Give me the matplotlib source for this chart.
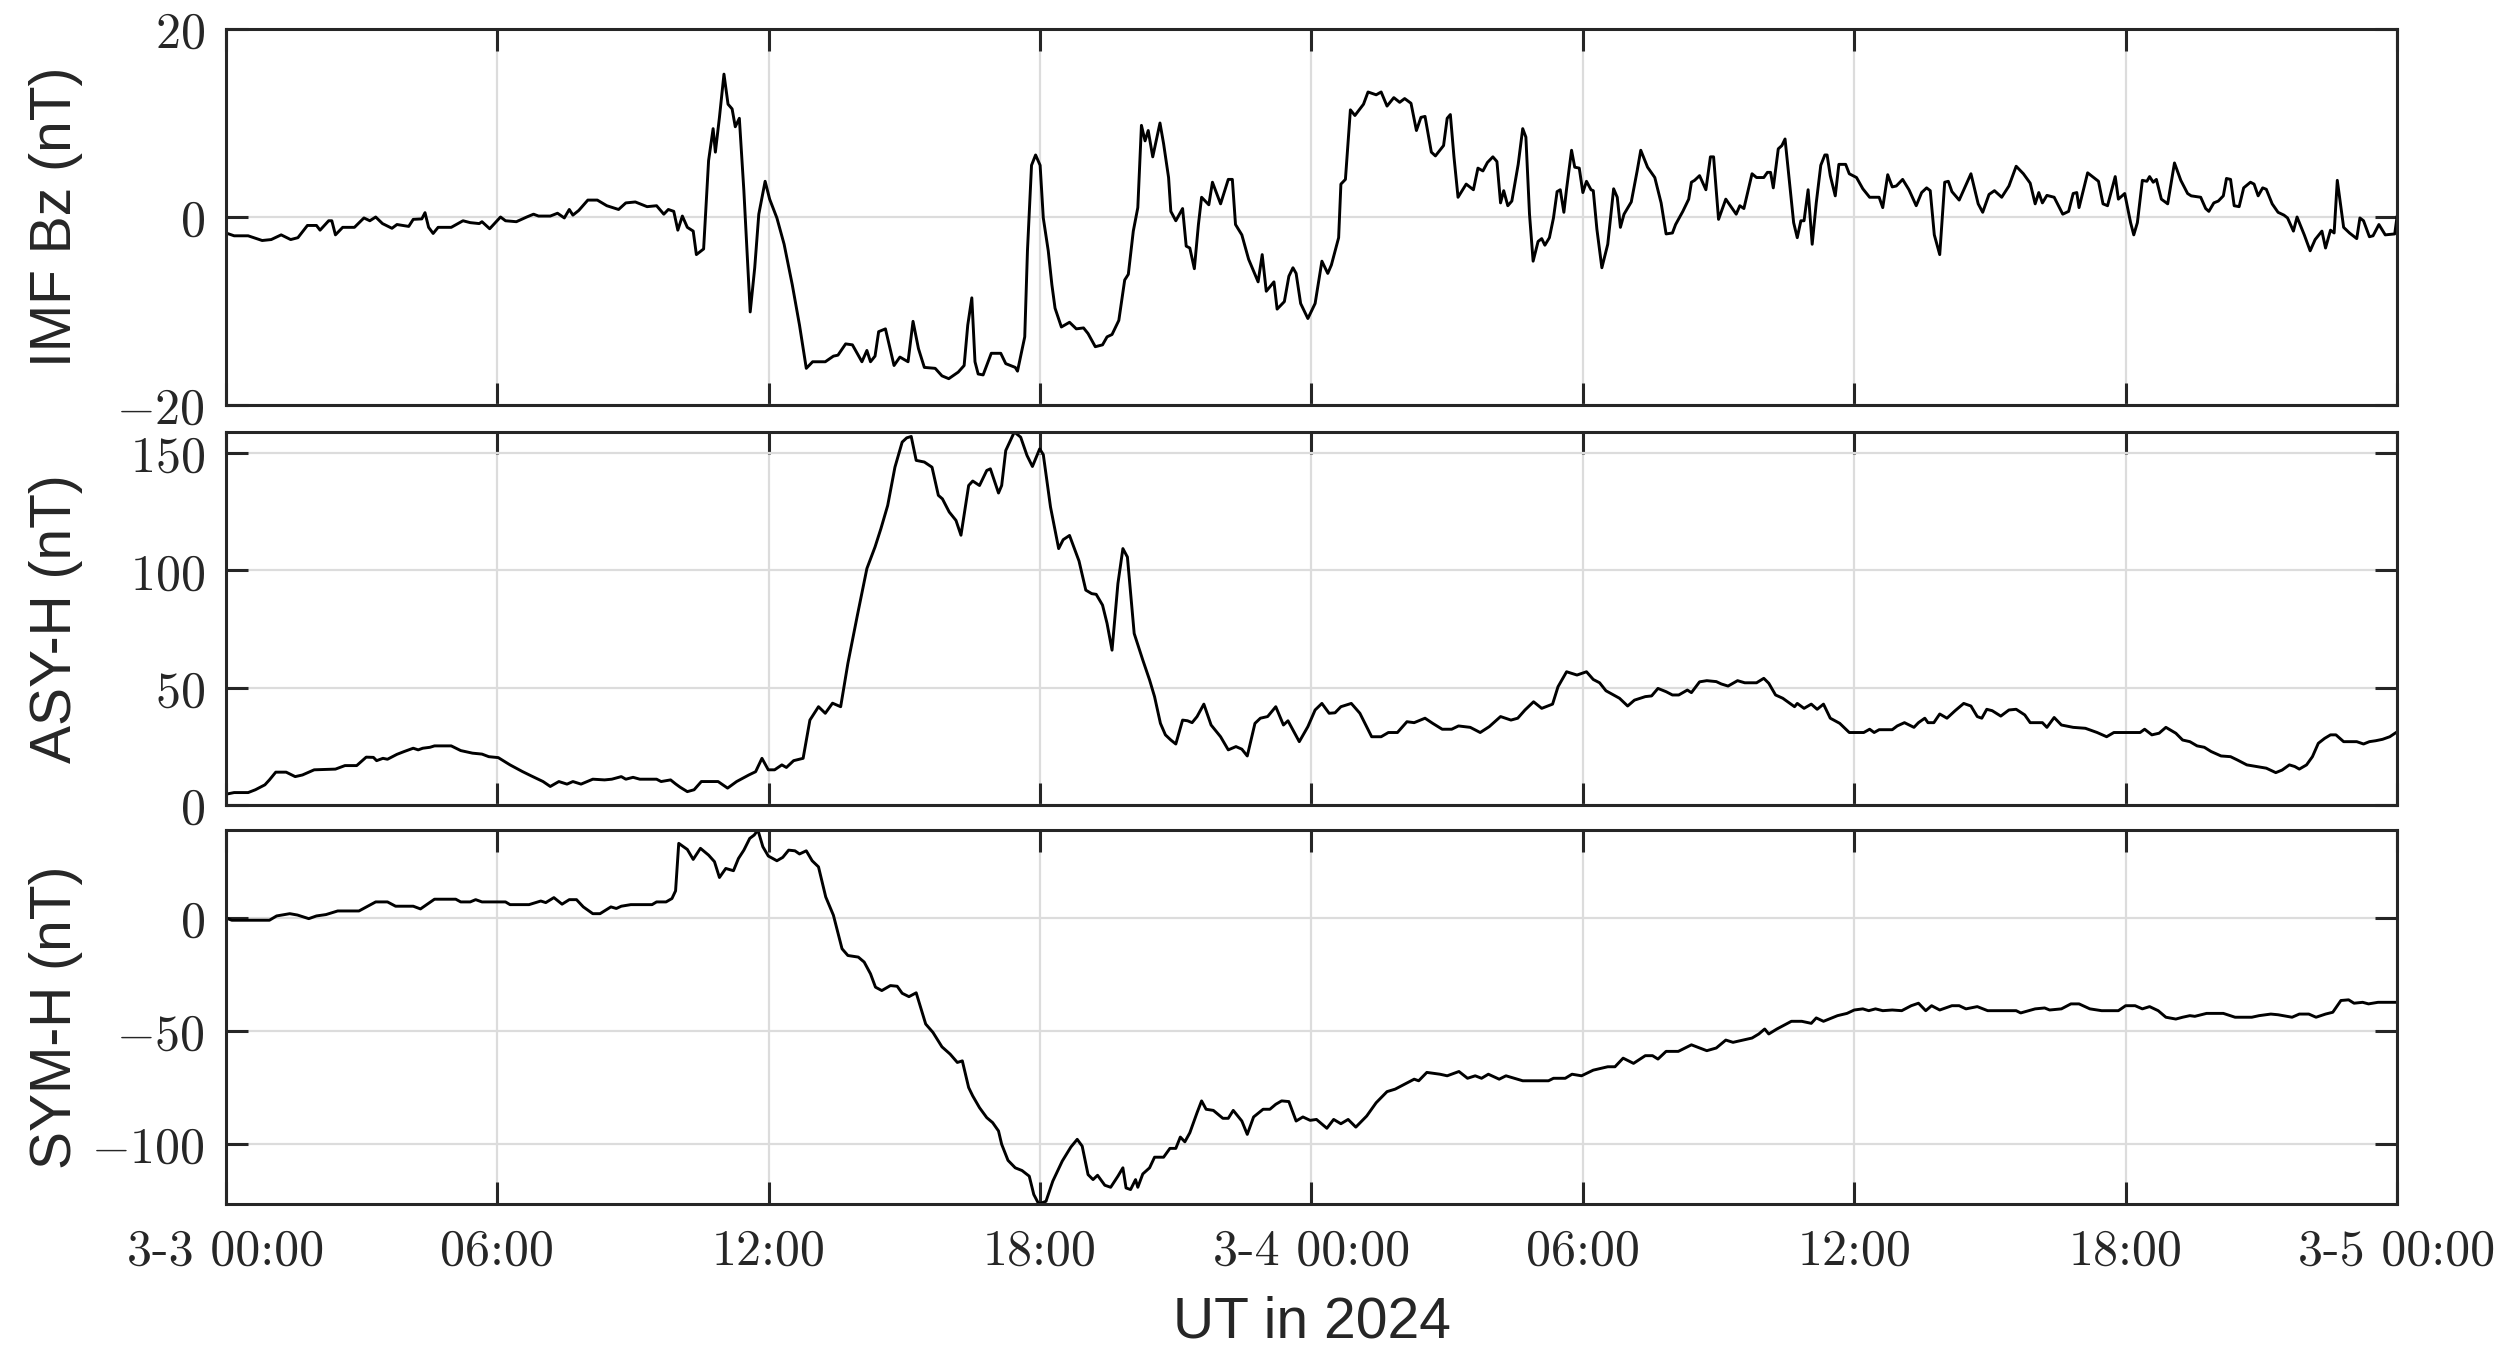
# Indices geomagneticos 3-5 de marzo de 2024: IMF Bz, ASY-H y SYM-H
import matplotlib
matplotlib.use('Agg')
import matplotlib.pyplot as plt
import numpy as np

plt.rcParams['mathtext.fontset'] = 'cm'

# ====================================================================================
# DATOS (horas desde 2024-03-03 00:00 UT, valor en nT)
bz_points = [
    (0, -1.7), (0.18, -2.0), (0.49, -2.0), (0.8, -2.5), (1.0, -2.4), (1.22, -1.9), (1.43, -2.4),
    (1.59, -2.2), (1.8, -0.9), (2.0, -0.9), (2.08, -1.4), (2.27, -0.4), (2.34, -0.4), (2.42, -1.9),
    (2.58, -1.1), (2.84, -1.1), (3.05, -0.1), (3.18, -0.4), (3.31, 0.0), (3.46, -0.7), (3.67, -1.2),
    (3.78, -0.8), (4.04, -1.0), (4.14, -0.25), (4.33, -0.2), (4.4, 0.46), (4.48, -1.1), (4.58, -1.75),
    (4.69, -1.1), (4.98, -1.1), (5.24, -0.4), (5.4, -0.6), (5.6, -0.7), (5.66, -0.5), (5.83, -1.25),
    (6.07, 0.0), (6.18, -0.4), (6.42, -0.5), (6.65, 0.0), (6.8, 0.3), (6.91, 0.1), (7.17, 0.1),
    (7.33, 0.4), (7.48, -0.1), (7.59, 0.8), (7.67, 0.2), (7.8, 0.7), (8.0, 1.8), (8.21, 1.8),
    (8.42, 1.2), (8.68, 0.8), (8.84, 1.5), (9.05, 1.6), (9.31, 1.1), (9.52, 1.2), (9.68, 0.3),
    (9.78, 0.8), (9.9, 0.6), (9.99, -1.4), (10.09, 0.1), (10.2, -1.1), (10.33, -1.5), (10.4, -4.0),
    (10.56, -3.4), (10.67, 6.0), (10.77, 9.4), (10.82, 6.9), (10.91, 10.6), (11.01, 15.2), (11.1, 12.0),
    (11.19, 11.5), (11.26, 9.6), (11.35, 10.5), (11.45, 2.8), (11.59, -10.1), (11.69, -5.4), (11.78, 0.3),
    (11.92, 3.8), (12.02, 1.9), (12.18, -0.1), (12.34, -2.9), (12.52, -7.2), (12.68, -11.5), (12.83, -16.1),
    (12.97, -15.4), (13.25, -15.4), (13.43, -14.8), (13.53, -14.7), (13.7, -13.5), (13.85, -13.6),
    (14.06, -15.4), (14.17, -14.2), (14.25, -15.4), (14.35, -14.8), (14.43, -12.2), (14.58, -11.9),
    (14.77, -15.8), (14.9, -14.9), (15.08, -15.4), (15.19, -11.1), (15.31, -14.0), (15.44, -16.0),
    (15.68, -16.1), (15.83, -16.9), (15.98, -17.2), (16.19, -16.5), (16.32, -15.8), (16.4, -11.5),
    (16.49, -8.6), (16.56, -15.4), (16.63, -16.7), (16.74, -16.8), (16.92, -14.5), (17.13, -14.5),
    (17.24, -15.6), (17.45, -16.0), (17.5, -16.4), (17.66, -12.75), (17.72, -3.6), (17.81, 5.5),
    (17.9, 6.6), (18.0, 5.5), (18.07, -0.1), (18.18, -3.6), (18.26, -7.2), (18.33, -9.7), (18.47, -11.7),
    (18.65, -11.2), (18.8, -11.9), (18.96, -11.8), (19.06, -12.4), (19.22, -13.8), (19.38, -13.6),
    (19.48, -12.75), (19.59, -12.5), (19.74, -11.0), (19.87, -6.7), (19.95, -6.1), (20.06, -1.5),
    (20.16, 1.0), (20.24, 9.75), (20.32, 8.1), (20.39, 9.2), (20.49, 6.4), (20.65, 10.0), (20.73, 7.8),
    (20.84, 4.2), (20.89, 0.6), (21.0, -0.4), (21.15, 0.9), (21.23, -3.1), (21.31, -3.3), (21.41, -5.5),
    (21.5, -0.8), (21.57, 2.1), (21.73, 1.3), (21.81, 3.7), (21.99, 1.4), (22.16, 4.0), (22.25, 4.0),
    (22.32, -0.8), (22.46, -1.9), (22.61, -4.5), (22.82, -6.9), (22.91, -4.0), (23.0, -7.9), (23.17, -6.9),
    (23.24, -9.8), (23.4, -9.0), (23.5, -6.3), (23.59, -5.4), (23.66, -6.0), (23.76, -9.2), (23.92, -10.8),
    (24.08, -9.2), (24.23, -4.7), (24.36, -6.0), (24.44, -5.1), (24.6, -2.2), (24.65, 3.5), (24.75, 4.0),
    (24.86, 11.4), (24.96, 10.8), (25.15, 12.0), (25.25, 13.3), (25.43, 13.0), (25.54, 13.3), (25.67, 11.8),
    (25.82, 12.7), (25.95, 12.2), (26.06, 12.6), (26.2, 12.1), (26.32, 9.2), (26.42, 10.6), (26.51, 10.7),
    (26.65, 6.9), (26.74, 6.5), (26.92, 7.6), (27.0, 10.5), (27.07, 10.9), (27.15, 6.4), (27.24, 2.1),
    (27.42, 3.5), (27.58, 2.9), (27.68, 5.2), (27.79, 4.9), (27.89, 5.8), (28.01, 6.4), (28.1, 5.9),
    (28.18, 1.5), (28.25, 2.8), (28.34, 1.2), (28.43, 1.7), (28.57, 5.6), (28.67, 9.4), (28.74, 8.5),
    (28.82, 0.3), (28.9, -4.7), (29.01, -2.6), (29.09, -2.3), (29.16, -3.0), (29.26, -2.2), (29.35, -0.1),
    (29.43, 2.7), (29.5, 2.9), (29.58, 0.5), (29.64, 3.0), (29.75, 7.1), (29.82, 5.3), (29.92, 5.2),
    (30.0, 2.6), (30.08, 3.8), (30.18, 2.9), (30.23, 2.8), (30.31, -1.3), (30.42, -5.4), (30.55, -2.9),
    (30.6, -0.6), (30.68, 3.0), (30.76, 2.1), (30.83, -1.1), (30.91, 0.3), (31.07, 1.6), (31.2, 4.9),
    (31.28, 7.1), (31.43, 5.3), (31.59, 4.2), (31.73, 1.5), (31.84, -1.8), (31.98, -1.7), (32.05, -0.8),
    (32.21, 0.6), (32.34, 1.9), (32.4, 3.7), (32.47, 3.9), (32.58, 4.4), (32.72, 2.9), (32.82, 6.4),
    (32.89, 6.4), (33.0, -0.25), (33.16, 1.9), (33.26, 1.2), (33.39, 0.3), (33.47, 1.2), (33.56, 0.9),
    (33.74, 4.6), (33.84, 4.2), (34.0, 4.2), (34.08, 4.75), (34.15, 4.75), (34.21, 3.1), (34.32, 7.25),
    (34.4, 7.6), (34.47, 8.3), (34.58, 3.1), (34.66, -0.6), (34.74, -2.2), (34.82, -0.4), (34.89, -0.4),
    (34.98, 2.9), (35.07, -2.9), (35.16, 1.5), (35.26, 5.5), (35.35, 6.6), (35.4, 6.6), (35.47, 4.4),
    (35.58, 2.25), (35.66, 5.6), (35.81, 5.6), (35.89, 4.6), (36.05, 4.2), (36.19, 3.0), (36.34, 2.1),
    (36.55, 2.1), (36.63, 1.0), (36.74, 4.5), (36.84, 3.2), (36.93, 3.3), (37.07, 4.0), (37.21, 2.9),
    (37.37, 1.2), (37.49, 2.6), (37.6, 3.1), (37.68, 2.8), (37.77, -1.9), (37.89, -4.0), (38.0, 3.7),
    (38.08, 3.8), (38.16, 2.7), (38.32, 1.8), (38.58, 4.6), (38.74, 1.4), (38.84, 0.5), (38.98, 2.4),
    (39.1, 2.8), (39.26, 2.1), (39.42, 3.3), (39.58, 5.4), (39.74, 4.6), (39.89, 3.6), (40.0, 1.4),
    (40.08, 2.6), (40.16, 1.5), (40.26, 2.3), (40.42, 2.1), (40.61, 0.3), (40.74, 0.6), (40.84, 2.5),
    (40.92, 2.6), (40.97, 1.0), (41.16, 4.7), (41.4, 3.8), (41.5, 1.4), (41.6, 1.2), (41.77, 4.3),
    (41.84, 1.9), (41.98, 2.5), (42.11, -0.6), (42.18, -1.9), (42.26, -0.6), (42.37, 3.9), (42.47, 3.8),
    (42.53, 4.3), (42.61, 3.7), (42.68, 4.0), (42.79, 1.9), (42.93, 1.4), (43.08, 5.75), (43.22, 3.9),
    (43.37, 2.5), (43.45, 2.25), (43.66, 2.1), (43.77, 0.9), (43.84, 0.6), (43.95, 1.5), (44.05, 1.7),
    (44.16, 2.25), (44.23, 4.1), (44.32, 4.0), (44.4, 1.2), (44.51, 1.1), (44.61, 3.1), (44.76, 3.7),
    (44.84, 3.5), (44.93, 2.25), (45.03, 3.1), (45.11, 2.95), (45.24, 1.4), (45.37, 0.5), (45.5, 0.2),
    (45.58, -0.1), (45.71, -1.5), (45.79, 0.0), (45.95, -1.9), (46.08, -3.6), (46.19, -2.4), (46.34, -1.5),
    (46.42, -3.3), (46.53, -1.4), (46.61, -1.7), (46.68, 3.9), (46.82, -1.1), (46.95, -1.7), (47.11, -2.3),
    (47.18, -0.1), (47.26, -0.4), (47.39, -2.1), (47.47, -2.0), (47.6, -0.8), (47.74, -1.9), (47.95, -1.8),
    (48.0, 0.0),
]

asy_points = [
    (0, 4.6), (0.18, 5.3), (0.49, 5.3), (0.65, 6.5), (0.86, 8.6), (0.96, 10.7), (1.1, 14.0), (1.33, 14.0),
    (1.53, 12.1), (1.69, 12.8), (1.95, 15.0), (2.42, 15.3), (2.63, 16.8), (2.89, 16.8), (3.1, 20.4),
    (3.26, 20.3), (3.33, 18.9), (3.47, 19.9), (3.57, 19.5), (3.78, 21.6), (3.94, 22.8), (4.14, 24.2),
    (4.25, 23.5), (4.35, 24.2), (4.51, 24.6), (4.61, 25.2), (4.98, 25.2), (5.19, 23.2), (5.45, 22.1),
    (5.66, 21.7), (5.81, 20.6), (6.02, 20.2), (6.28, 17.1), (6.55, 14.3), (6.75, 12.4), (7.01, 10.0),
    (7.17, 7.9), (7.36, 10.0), (7.54, 8.9), (7.67, 10.0), (7.85, 8.9), (8.11, 11.0), (8.37, 10.7),
    (8.53, 11.0), (8.74, 12.1), (8.84, 11.0), (9.0, 11.8), (9.15, 11.0), (9.52, 11.0), (9.62, 10.0),
    (9.83, 10.7), (9.94, 9.0), (10.04, 7.6), (10.2, 5.7), (10.35, 6.5), (10.51, 10.0), (10.88, 10.0),
    (11.09, 7.2), (11.29, 10.0), (11.56, 12.8), (11.71, 14.2), (11.85, 19.9), (11.99, 15.0), (12.13, 15.0),
    (12.29, 17.1), (12.39, 16.0), (12.55, 18.9), (12.76, 19.9), (12.91, 36.2), (13.1, 41.9), (13.25, 39.1),
    (13.41, 43.4), (13.59, 41.9), (13.75, 60.4), (13.96, 80.9), (14.17, 100.8), (14.35, 110.0),
    (14.48, 117.8), (14.63, 127.7), (14.79, 144.0), (14.95, 154.7), (15.05, 156.5), (15.15, 157.1),
    (15.26, 146.9), (15.44, 146.2), (15.61, 144.0), (15.75, 132.0), (15.84, 130.5), (15.99, 124.9),
    (16.14, 121.3), (16.25, 115.0), (16.42, 136.2), (16.51, 138.1), (16.66, 136.2), (16.82, 142.6),
    (16.9, 143.3), (17.08, 133.0), (17.15, 136.2), (17.24, 151.1), (17.43, 159.0), (17.57, 156.8),
    (17.71, 149.0), (17.83, 144.3), (17.99, 151.8), (18.07, 149.4), (18.23, 127.0), (18.41, 109.3),
    (18.51, 113.1), (18.65, 114.9), (18.86, 104.0), (19.01, 91.6), (19.14, 90.1), (19.24, 89.8),
    (19.38, 85.2), (19.48, 77.4), (19.59, 66.0), (19.72, 94.4), (19.83, 109.3), (19.93, 105.7),
    (20.08, 73.1), (20.27, 61.8), (20.42, 53.3), (20.53, 46.2), (20.66, 34.8), (20.77, 29.9), (20.89, 27.7),
    (21.0, 26.0), (21.15, 36.2), (21.26, 35.9), (21.36, 35.1), (21.47, 37.7), (21.62, 43.0), (21.78, 34.1),
    (21.99, 29.1), (22.16, 23.5), (22.33, 24.9), (22.46, 23.8), (22.58, 20.9), (22.75, 34.8), (22.87, 37.0),
    (23.03, 37.7), (23.21, 41.9), (23.38, 34.1), (23.48, 35.9), (23.73, 27.0), (23.92, 33.4), (24.08, 40.5),
    (24.23, 43.3), (24.39, 39.1), (24.52, 39.3), (24.65, 41.9), (24.88, 43.3), (25.07, 39.1), (25.33, 29.1),
    (25.54, 29.1), (25.7, 30.9), (25.9, 30.9), (26.11, 35.5), (26.27, 35.1), (26.51, 37.0), (26.68, 34.8),
    (26.89, 32.3), (27.1, 32.3), (27.25, 33.7), (27.51, 33.1), (27.73, 30.9), (27.93, 33.4), (28.18, 37.7),
    (28.41, 36.2), (28.56, 37.0), (28.72, 40.5), (28.91, 44.0), (29.09, 41.2), (29.33, 43.0), (29.45, 50.4),
    (29.64, 56.8), (29.87, 55.4), (30.08, 56.8), (30.23, 53.5), (30.37, 52.1), (30.51, 48.7), (30.81, 45.5),
    (30.99, 42.2), (31.14, 44.7), (31.38, 46.2), (31.52, 46.5), (31.66, 49.7), (31.84, 48.3), (31.98, 46.9),
    (32.12, 46.9), (32.31, 49.0), (32.4, 47.9), (32.58, 52.5), (32.74, 53.0), (32.95, 52.6), (33.06, 51.6),
    (33.21, 50.7), (33.42, 53.0), (33.58, 52.1), (33.84, 52.1), (34.0, 54.0), (34.11, 51.9), (34.26, 46.9),
    (34.42, 45.5), (34.58, 43.3), (34.68, 41.9), (34.74, 43.3), (34.89, 41.2), (35.05, 43.0), (35.18, 40.8),
    (35.32, 43.0), (35.47, 37.0), (35.68, 34.8), (35.89, 30.9), (36.21, 30.9), (36.34, 32.3), (36.44, 30.9),
    (36.55, 32.1), (36.84, 32.1), (36.95, 33.7), (37.11, 35.1), (37.32, 33.1), (37.42, 35.1), (37.56, 37.0),
    (37.63, 35.1), (37.76, 35.1), (37.89, 38.8), (38.05, 37.0), (38.23, 40.2), (38.42, 43.3), (38.58, 42.2),
    (38.72, 37.7), (38.82, 37.0), (38.93, 40.8), (39.05, 40.2), (39.24, 37.9), (39.42, 40.5), (39.58, 40.8),
    (39.77, 38.4), (39.89, 35.1), (40.16, 35.1), (40.26, 33.1), (40.42, 37.3), (40.58, 34.1), (40.84, 33.1),
    (41.11, 32.7), (41.37, 30.9), (41.58, 29.1), (41.74, 30.9), (42.32, 30.9), (42.42, 32.3), (42.58, 29.9),
    (42.74, 30.6), (42.89, 33.1), (43.11, 30.6), (43.26, 27.7), (43.42, 27.0), (43.58, 25.2), (43.74, 24.6),
    (43.89, 22.8), (44.11, 20.9), (44.32, 20.6), (44.47, 19.2), (44.68, 17.1), (44.89, 16.4), (45.11, 15.7),
    (45.32, 13.8), (45.46, 14.9), (45.62, 17.1), (45.74, 16.4), (45.84, 15.3), (46.0, 17.1), (46.13, 20.6),
    (46.26, 26.3), (46.4, 28.4), (46.53, 29.9), (46.65, 29.9), (46.82, 27.0), (47.11, 27.0), (47.26, 26.0),
    (47.39, 27.0), (47.53, 27.4), (47.68, 28.0), (47.84, 29.1), (47.98, 30.9),
]

sym_points = [
    (0, 0.0), (0.13, -1.0), (0.49, -1.0), (0.96, -1.0), (1.12, 0.9), (1.41, 1.9), (1.58, 1.3), (1.83, -0.3),
    (2.0, 0.9), (2.21, 1.5), (2.47, 3.1), (2.94, 3.1), (3.31, 7.1), (3.57, 7.1), (3.75, 5.2), (4.14, 5.2),
    (4.3, 4.0), (4.61, 8.3), (5.08, 8.3), (5.19, 7.1), (5.4, 7.1), (5.52, 8.1), (5.66, 7.1), (6.18, 7.1),
    (6.28, 5.9), (6.7, 5.9), (6.96, 7.5), (7.07, 6.8), (7.25, 9.0), (7.43, 6.1), (7.59, 8.1), (7.75, 8.1),
    (7.9, 4.9), (8.11, 1.9), (8.27, 1.9), (8.51, 4.9), (8.63, 4.2), (8.74, 5.2), (8.95, 5.9), (9.42, 5.9),
    (9.52, 7.1), (9.73, 7.1), (9.86, 8.6), (9.94, 12.0), (10.01, 33.0), (10.2, 30.3), (10.33, 25.9),
    (10.49, 30.8), (10.67, 27.8), (10.8, 24.9), (10.91, 17.9), (11.05, 21.9), (11.22, 20.9), (11.33, 26.3),
    (11.45, 30.0), (11.58, 35.2), (11.68, 36.7), (11.76, 38.9), (11.87, 31.5), (11.99, 27.4), (12.18, 25.3),
    (12.31, 26.8), (12.44, 30.0), (12.58, 29.7), (12.68, 28.3), (12.83, 29.7), (12.96, 25.3), (13.1, 22.6),
    (13.26, 9.3), (13.43, 1.2), (13.62, -13.6), (13.75, -16.6), (13.98, -17.3), (14.11, -19.5),
    (14.25, -24.7), (14.36, -30.6), (14.5, -32.1), (14.69, -29.9), (14.84, -30.2), (14.95, -33.3),
    (15.1, -34.8), (15.26, -33.1), (15.47, -46.9), (15.63, -50.6), (15.83, -57.0), (16.01, -60.2),
    (16.17, -63.9), (16.28, -63.2), (16.42, -75.0), (16.51, -78.7), (16.66, -83.9), (16.82, -88.3),
    (16.95, -90.5), (17.08, -94.2), (17.15, -100.1), (17.29, -107.2), (17.45, -110.5), (17.6, -111.7),
    (17.76, -114.2), (17.86, -122.3), (17.97, -126.5), (18.13, -125.3), (18.28, -116.4), (18.49, -107.5),
    (18.68, -101.3), (18.82, -97.9), (18.93, -100.9), (19.06, -113.5), (19.17, -115.7), (19.27, -113.8),
    (19.43, -118.2), (19.56, -119.1), (19.72, -114.2), (19.83, -110.5), (19.9, -119.4), (20.0, -120.1),
    (20.11, -115.7), (20.16, -119.1), (20.27, -113.2), (20.42, -110.5), (20.53, -105.8), (20.73, -105.8),
    (20.87, -101.9), (21.0, -101.9), (21.1, -96.9), (21.2, -99.0), (21.31, -95.0), (21.47, -86.1),
    (21.57, -80.9), (21.67, -84.6), (21.83, -85.1), (22.04, -88.6), (22.16, -88.6), (22.27, -85.1),
    (22.46, -89.8), (22.58, -95.7), (22.72, -88.0), (22.93, -84.6), (23.08, -84.6), (23.21, -82.4),
    (23.34, -80.9), (23.5, -81.2), (23.66, -89.8), (23.81, -88.0), (23.97, -89.5), (24.11, -89.1),
    (24.34, -93.0), (24.49, -89.1), (24.65, -91.0), (24.81, -89.1), (24.98, -92.5), (25.22, -87.6),
    (25.43, -81.7), (25.67, -76.8), (25.85, -75.7), (26.06, -73.5), (26.27, -71.3), (26.37, -72.0),
    (26.55, -68.3), (26.84, -69.1), (27.0, -69.8), (27.26, -67.9), (27.45, -70.9), (27.62, -69.8),
    (27.76, -70.9), (27.91, -69.1), (28.15, -71.3), (28.3, -69.8), (28.67, -72.0), (29.24, -72.0),
    (29.35, -70.9), (29.61, -70.9), (29.76, -69.1), (29.97, -69.8), (30.23, -67.3), (30.55, -65.8),
    (30.71, -65.8), (30.89, -62.0), (31.12, -64.3), (31.38, -60.9), (31.54, -60.9), (31.66, -62.4),
    (31.84, -59.0), (32.11, -59.0), (32.4, -56.1), (32.74, -58.7), (32.95, -57.5), (33.16, -54.0),
    (33.32, -55.0), (33.74, -53.1), (33.89, -51.3), (34.02, -49.1), (34.11, -51.3), (34.29, -49.1),
    (34.47, -47.2), (34.61, -45.7), (34.84, -45.7), (35.05, -46.6), (35.16, -44.2), (35.32, -45.7),
    (35.63, -43.2), (35.84, -42.2), (36.0, -40.7), (36.19, -40.2), (36.32, -41.0), (36.47, -40.2),
    (36.63, -41.0), (36.84, -40.7), (37.05, -41.0), (37.26, -38.8), (37.42, -37.7), (37.58, -41.0),
    (37.71, -38.8), (37.89, -40.7), (38.16, -38.8), (38.32, -38.8), (38.47, -40.2), (38.72, -39.2),
    (38.95, -41.0), (39.58, -41.0), (39.68, -42.0), (40.0, -40.2), (40.21, -39.8), (40.32, -40.7),
    (40.58, -40.2), (40.79, -38.0), (40.97, -38.0), (41.21, -40.2), (41.47, -41.0), (41.84, -41.0),
    (42.0, -38.8), (42.21, -38.8), (42.37, -40.2), (42.53, -39.2), (42.72, -41.0), (42.89, -43.9),
    (43.11, -44.7), (43.26, -43.9), (43.42, -43.2), (43.53, -43.5), (43.79, -42.2), (44.16, -42.2),
    (44.42, -43.9), (44.79, -43.9), (44.95, -43.2), (45.21, -42.5), (45.37, -42.8), (45.68, -43.9),
    (45.84, -42.5), (46.05, -42.5), (46.21, -43.9), (46.42, -42.5), (46.58, -41.7), (46.76, -36.5),
    (46.93, -36.2), (47.05, -37.7), (47.24, -37.3), (47.37, -38.0), (47.58, -37.3), (48.0, -37.3),
]

# Etiquetas de los ejes
x_ticks = [0, 6, 12, 18, 24, 30, 36, 42, 48]
x_labels = ['3-3 00:00', '06:00', '12:00', '18:00', '3-4 00:00', '06:00', '12:00', '18:00', '3-5 00:00']
y_labels = ['IMF Bz (nT)', 'ASY-H (nT)', 'SYM-H (nT)']
y_ticks = [[-20, 0, 20], [0, 50, 100, 150], [-100, -50, 0]]
x_title = 'UT in 2024'

# Colores estilo MATLAB
AX_COLOR = '#262626'
GRID_COLOR = '#dcdcdc'


# ====================================================================================
# FUNCION StyleAxes
# Aplica el estilo de caja, rejilla y marcas a un panel
def StyleAxes(ax, ticks):
    for s in ax.spines.values():
        s.set_color(AX_COLOR)
        s.set_linewidth(2.2)
    ax.set_xlim(0, 48)
    ax.set_xticks(x_ticks)
    ax.set_yticks(ticks)
    ax.set_yticklabels([r'$%d$' % t for t in ticks])
    ax.grid(True, color=GRID_COLOR, linewidth=1.6)
    ax.set_axisbelow(True)
    ax.tick_params(direction='in', top=True, right=True, length=15.5, width=2.2,
                   color=AX_COLOR, labelcolor=AX_COLOR, labelsize=36)
    ax.tick_params(axis='y', pad=15)
    ax.tick_params(axis='x', pad=18)


# ====================================================================================
# GRAFICA
fig = plt.figure(figsize=(25.11, 13.63), dpi=100)

boxes = [[0.0900, 0.70286, 0.8646, 0.27586],
         [0.0900, 0.40939, 0.8646, 0.27366],
         [0.0900, 0.11665, 0.8646, 0.27439]]

series = [bz_points, asy_points, sym_points]
axes = []
for i in range(3):
    ax = fig.add_axes(boxes[i])
    data = np.array(series[i])
    ax.plot(data[:, 0], data[:, 1], color='black', linewidth=2.1)
    StyleAxes(ax, y_ticks[i])
    ax.set_ylabel(y_labels[i], fontsize=41, family='Liberation Sans', color=AX_COLOR)
    ax.yaxis.set_label_coords(-0.066, 0.5)
    axes.append(ax)

    if i == 0:
        ax.set_ylim(-20, 20)
    elif i == 1:
        ax.set_ylim(0, data[:, 1].max())
    else:
        ax.set_ylim(data[:, 1].min(), data[:, 1].max())

    if i < 2:
        ax.set_xticklabels([])
    else:
        ax.set_xticklabels(x_labels, family='cmr10')

axes[2].set_xlabel(x_title, fontsize=41, family='Liberation Sans', color=AX_COLOR)
axes[2].xaxis.set_label_coords(0.5, -0.245)

fig.savefig('out.png', dpi=100)
